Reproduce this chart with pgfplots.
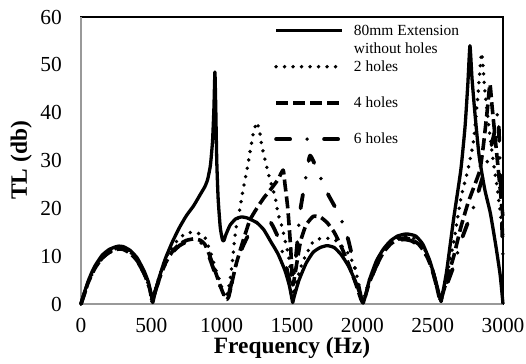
\documentclass[border=0pt]{standalone}
\usepackage{fontspec}
\setmainfont{Liberation Serif}
\usepackage{pgfplots}
\pgfplotsset{compat=1.18}
\begin{document}
\begin{tikzpicture}
\begin{axis}[
  name=ax,
  scale only axis,
  width=422bp, height=287bp,
  xmin=0, xmax=3000, ymin=0, ymax=60,
  xtick={0,500,...,3000}, ytick={0,10,...,60},
  major tick length=0pt,
  /pgf/number format/assume math mode=true,
  /pgf/number format/1000 sep={},
  xticklabel style={font=\fontsize{21.5}{24}\selectfont, inner sep=0pt, anchor=north, yshift=-14bp},
  yticklabel style={font=\fontsize{21.5}{24}\selectfont, inner sep=0pt, anchor=east, xshift=-19bp},
  xlabel={\textbf{Frequency (Hz)}},
  ylabel={\textbf{TL (db)}},
  xlabel style={font=\fontsize{23.5}{26}\selectfont, at={(axis description cs:0.5,0)}, anchor=north, inner sep=0pt, yshift=-33bp},
  ylabel style={font=\fontsize{23.5}{26}\selectfont, at={(axis description cs:0,0.5)}, anchor=base, inner sep=0pt, yshift=54bp},
  axis line style={black, line width=1.6bp},
  clip=false,
  legend style={draw=none, fill=none, at={(axis cs:1372,58.4)}, anchor=north west,
    font=\fontsize{15.5}{17}\selectfont, inner sep=0pt, row sep=24bp, column sep=10bp,
    nodes={inner sep=0pt}},
  legend cell align=left,
  legend image code/.code={\draw[#1] (0bp,0bp) -- (66bp,0bp);},
  every axis plot/.append style={line join=round},
]
\draw[gray!80, line width=2bp] (rel axis cs:0,0) -- (rel axis cs:1,0);
\draw[gray!80, line width=2bp] (rel axis cs:0,0) -- (rel axis cs:0,1);

% 80mm extension without holes
\addplot[black, line width=3.3bp, smooth, tension=0.3] coordinates {
(0,0) (25,2.5) (50,4.7) (75,6.5) (100,8) (150,10.2) (200,11.4) (250,12) (270,12.1) (300,12)
(350,11.2) (400,9.6) (450,6.8) (480,4.5) (500,1.8) (510,0.3) (520,1.5) (550,5) (600,9.5)
(650,13) (700,16) (750,18.5) (800,20.5) (850,23) (880,24.5) (900,26) (920,29) (935,34)
(945,41) (952,48.5) (958,41) (965,30) (975,22) (990,16) (1005,13.5) (1015,13.2) (1030,14.5)
(1060,16.5) (1100,17.8) (1140,18.2) (1180,18) (1250,17) (1300,15.5) (1350,13) (1400,10.5)
(1450,7) (1480,4) (1500,1) (1505,0.3) (1515,1.5) (1550,5) (1600,8.5) (1650,10.8) (1700,11.8)
(1750,12.2) (1800,11.8) (1850,10.3) (1900,8) (1950,4.8) (1990,1.5) (2005,0.2) (2020,1.5)
(2050,5) (2100,9) (2150,11.5) (2200,13.2) (2250,14.2) (2300,14.6) (2330,14.6) (2380,14.2)
(2430,12.5) (2480,9) (2520,5) (2550,1.5) (2560,0.5) (2570,2) (2600,7) (2650,18) (2700,28)
(2730,37) (2750,46) (2765,54) (2780,47) (2800,40) (2830,31) (2870,24) (2910,19) (2950,12)
(2980,6) (3000,0)
};
\addlegendentry{\raisebox{0pt}[\height][-5bp]{\vtop{\baselineskip=18bp\hbox{80mm Extension}\hbox{without holes}}}}

% 2 holes
\addplot[black, line width=3.8bp, line cap=round, dash pattern=on 0bp off 8.5bp, smooth, tension=0.3] coordinates {
(0,0) (50,4.5) (100,7.7) (150,9.8) (200,11) (250,11.6) (280,11.7) (300,11.6) (350,10.8)
(400,9.2) (450,6.5) (490,3) (505,0.5) (520,2) (560,6) (600,9.5) (650,12) (700,13.8)
(750,14.8) (800,15) (850,14.6) (880,14) (900,12.5) (930,10) (960,7) (990,4.5) (1010,2.5)
(1030,1.2) (1060,5) (1080,10) (1100,15.5) (1130,20) (1150,23.5) (1180,28) (1200,31.5)
(1225,35.7) (1250,38) (1270,36) (1286,33) (1320,28.7) (1343,26) (1380,22.4) (1400,19)
(1430,16) (1450,13.4) (1472,10.6) (1495,6) (1512,1.8) (1530,4.5) (1560,7.5) (1592,9.8)
(1650,13) (1720,13.8) (1805,13.4) (1890,11) (1947,7.7) (1985,2.5) (2003,0.3) (2020,2)
(2050,5) (2100,8.5) (2150,11) (2200,12.8) (2250,13.8) (2300,14.2) (2350,14) (2400,13)
(2450,11) (2500,7) (2530,3.5) (2550,1) (2565,1.5) (2600,6) (2650,13) (2700,22) (2750,28)
(2790,34) (2820,43) (2848,52.5) (2870,45) (2900,37) (2930,30) (2960,24) (2985,18) (3000,14)
};
\addlegendentry{2 holes}

% 4 holes
\addplot[black, line width=3.6bp, dash pattern=on 12bp off 5bp, smooth, tension=0.3] coordinates {
(0,0) (50,4.4) (100,7.5) (150,9.6) (200,10.8) (250,11.4) (280,11.5) (300,11.4) (350,10.6)
(400,9) (450,6.3) (490,3) (505,0.5) (520,2) (560,5.5) (600,8.5) (650,11) (700,12.5)
(750,13.3) (800,13.6) (850,13.3) (880,12.5) (910,10.5) (940,8) (970,5.5) (1000,3) (1030,1)
(1050,1.5) (1100,8) (1150,13) (1200,17.5) (1250,20) (1300,22.2) (1350,24) (1400,26)
(1437,28) (1450,25) (1470,20) (1490,12) (1505,4) (1520,6) (1560,13) (1600,16.5) (1650,18.3)
(1700,18.2) (1750,17) (1800,15) (1850,12) (1900,8.5) (1950,4.5) (1990,1) (2005,0.3)
(2020,1.5) (2050,4.5) (2100,8) (2150,10.8) (2200,12.5) (2250,13.5) (2300,13.8) (2350,13.5)
(2400,12.5) (2450,10.5) (2500,7) (2530,3.5) (2550,1) (2565,1.5) (2600,5) (2650,10)
(2700,16) (2750,21) (2800,25) (2836,28) (2860,33) (2890,41) (2907,46) (2920,42) (2940,36)
(2960,30) (2980,24) (3000,18)
};
\addlegendentry{4 holes}

% 6 holes
\addplot[black, line width=3.8bp, line cap=round, dash pattern=on 14bp off 17bp on 0bp off 17bp, smooth, tension=0.3] coordinates {
(0,0) (50,4.4) (100,7.5) (150,9.6) (200,10.8) (250,11.4) (280,11.5) (300,11.4) (350,10.6)
(400,9) (450,6.3) (490,3) (505,0.5) (520,2) (560,5.5) (600,8.3) (650,10.8) (700,12.2)
(750,13) (800,13.2) (850,12.8) (880,12) (910,10) (940,7.5) (970,5) (1000,2.8) (1030,1.2)
(1050,2) (1100,8) (1150,12) (1200,15) (1250,17) (1300,18) (1350,17) (1400,14) (1450,9)
(1490,4) (1510,5) (1535,12) (1556,19) (1590,25) (1628,31) (1685,27.6) (1755,23) (1840,18.4)
(1900,13.4) (1950,7) (1990,1.5) (2005,0.3) (2020,1.5) (2050,4.5) (2100,8) (2150,10.8)
(2200,12.5) (2250,13.3) (2300,13.5) (2350,13.2) (2400,12.2) (2450,10.2) (2500,6.8)
(2530,3.5) (2555,1) (2570,1.5) (2600,4) (2650,8) (2700,13) (2750,17) (2800,21) (2850,26)
(2900,31) (2940,36) (2965,40) (2980,28) (3000,10)
};
\addlegendentry{6 holes}
\end{axis}
\pgfresetboundingbox
\path[use as bounding box] ([shift={(-81bp,-60bp)}]ax.south west) rectangle ([shift={(23bp,17bp)}]ax.north east);
\end{tikzpicture}
\end{document}
